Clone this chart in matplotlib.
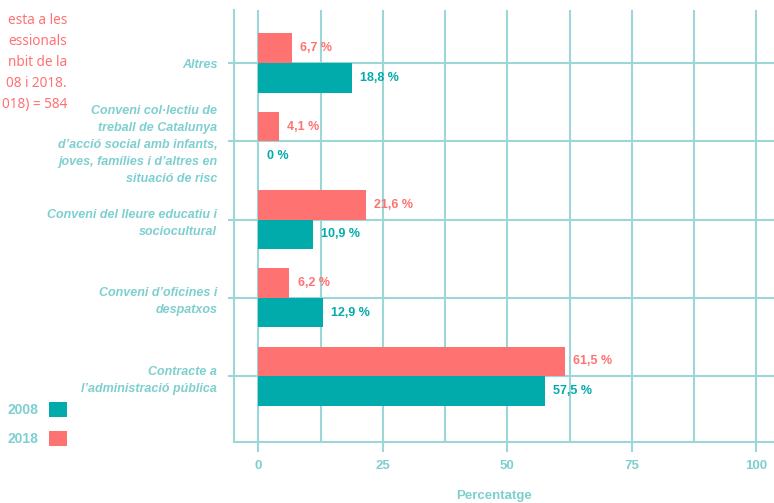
import numpy as np
import matplotlib
matplotlib.use("Agg")
import matplotlib.pyplot as plt

plt.rcParams['font.family'] = ['Liberation Sans', 'DejaVu Sans']

# dades
categories = ["Contracte a\nl’administració pública",
              "Conveni d’oficines i\ndespatxos",
              "Conveni del lleure educatiu i\nsociocultural",
              "Conveni col·lectiu de\ntreball de Catalunya\nd’acció social amb infants,\njoves, famílies i d’altres en\nsituació de risc",
              "Altres"]
v2008 = [57.5, 12.9, 10.9, 0, 18.8]
v2018 = [61.5, 6.2, 21.6, 4.1, 6.7]
years = ["2008", "2018"]
xticks = [0, 25, 50, 75, 100]
title_bits = ["esta a les", "essionals", "nbit de la", "08 i 2018.", "018) = 584"]

TEAL = "#02ABAB"
PINK = "#FF7272"
LIGHT = "#7ECFCF"
GRID = "#9DD6D6"

fig = plt.figure(figsize=(7.74, 5.03), dpi=100)
ax = fig.add_axes([234 / 774, (503 - 441.7) / 503, 540 / 774, 431.7 / 503])

y = np.arange(len(categories))
h = 0.377
b08 = ax.barh(y - h / 2, v2008, height=h, color=TEAL, zorder=3, label=years[0])
b18 = ax.barh(y + h / 2, v2018, height=h, color=PINK, zorder=3, label=years[1])


def fmt(v):
    s = "0" if v == 0 else f"{v:.1f}".replace(".", ",")
    return s + " %"


for bars, vals, col in [(b08, v2008, TEAL), (b18, v2018, PINK)]:
    for r, v in zip(bars, vals):
        ax.annotate(fmt(v), (v, r.get_y() + r.get_height() / 2), xytext=(6, 0),
                    textcoords="offset points", va="center", ha="left",
                    color=col, fontsize=9, fontweight="bold", zorder=4)

ax.set_xlim(-4.9, 103.55)
ax.set_ylim(-0.836, 4.677)

# eixos
ax.set_xticks(xticks)
ax.set_xticks([12.5, 37.5, 62.5, 87.5], minor=True)
ax.set_yticks(y)
ax.set_yticklabels(categories, fontsize=9, fontweight="bold", style="italic",
                   color=LIGHT, linespacing=1.55)
ax.set_xticklabels([str(t) for t in xticks], fontsize=9.5, fontweight="bold", color=LIGHT)
ax.tick_params(axis="x", which="major", length=7, width=1.5, color=GRID, pad=6)
ax.tick_params(axis="x", which="minor", length=0)
ax.tick_params(axis="y", length=4, width=1.5, color=GRID, pad=8)
ax.grid(True, which="both", axis="x", color=GRID, linewidth=1.5, zorder=0)
ax.grid(True, which="major", axis="y", color=GRID, linewidth=1.5, zorder=0)
ax.set_axisbelow(True)
for s in ["top", "right"]:
    ax.spines[s].set_visible(False)
for s in ["left", "bottom"]:
    ax.spines[s].set_color(GRID)
    ax.spines[s].set_linewidth(1.5)

ax.set_xlabel("Percentatge", fontsize=9.5, fontweight="bold", color=LIGHT)
ax.xaxis.set_label_coords(0.481, -0.112)
ax.xaxis.label.set_va("top")

# titol (retallat)
for i, t in enumerate(title_bits):
    fig.text(67 / 774, 1 - (20 + i * 21.2) / 503, t, ha="right", va="center",
             fontsize=9.8, color=PINK, family="Noto Sans")

# llegenda
leg = fig.legend(handles=[b08, b18], labels=years, markerfirst=False, frameon=False,
                 loc="upper left", bbox_to_anchor=(0.002, 1 - 396 / 503),
                 handlelength=1.3, handleheight=1.3, handletextpad=0.8,
                 labelspacing=1.0, prop={"weight": "bold", "size": 10},
                 labelcolor=LIGHT, borderaxespad=0)

fig.savefig("out.png", dpi=100)
